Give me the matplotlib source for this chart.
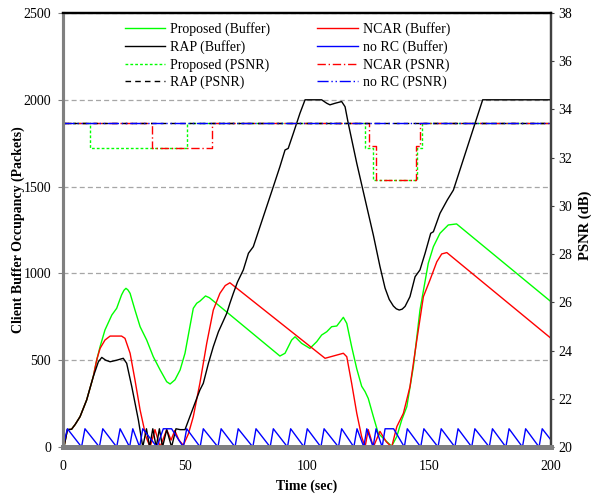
import matplotlib
matplotlib.use("Agg")
import matplotlib.pyplot as plt

plt.rcParams['font.family'] = ['Liberation Serif', 'DejaVu Serif']
plt.rcParams['font.size'] = 10

# ---------------- data ----------------
time_ticks = [0, 50, 100, 150, 200]
buffer_ticks = [0, 500, 1000, 1500, 2000, 2500]
psnr_ticks = [20, 22, 24, 26, 28, 30, 32, 34, 36, 38]

# RAP (Buffer)
rap_t = [0, 0.4, 1.8, 3.5, 5, 7, 9.7, 12.4, 14.5, 15.9, 17.5, 19.3, 22, 24.7, 26.1, 28.2, 30.9,
         32.7, 34.2, 35.5, 36.8, 38.2, 39.5, 40.8, 42.5, 44.5, 46.3, 48, 50, 52, 54, 56.1, 57.5,
         59.6, 61.6, 63.7, 65.7, 67.1, 68.4, 69.8, 71.5, 73.9, 76, 78, 82.1, 86.2, 88.9, 91, 92.3,
         94.4, 97.1, 99.2, 106, 108.1, 109.4, 111.5, 114.2, 115.6, 116.9, 120.4, 124.5, 127.2,
         129.9, 132.0, 133.7, 135.4, 136.6, 137.8, 139.0, 140.2, 142.2, 144.3, 146.3, 148.4,
         150.7, 151.8, 154.5, 157.5, 160, 166, 172, 200]
rap_buf = [0, 0, 100, 102, 130, 175, 271, 405, 491, 516, 500, 491, 500, 511, 482, 347, 155,
           0, 105, 0, 105, 0, 105, 0, 100, 0, 105, 100, 100, 175, 250, 328, 367,
           482, 578, 664, 726, 770, 828, 885, 950, 1020, 1116, 1154, 1327, 1500, 1615, 1711, 1720,
           1807, 1922, 2000, 2000, 1980, 1971, 1980, 1990, 1960, 1865, 1634, 1384, 1220,
           1040, 915, 850, 812, 796, 789, 794, 810, 866, 981, 1020, 1116,
           1231, 1240, 1346, 1423, 1480, 1740, 2000, 2000]

# NCAR (Buffer)
ncar_t = [0, 0.4, 1.8, 3.5, 5, 7, 9.7, 12.4, 13.8, 15.2, 17.2, 19.3, 24, 25.4, 27.5, 29.5, 31.6,
          34, 35.7, 37.7, 39.8, 42.5, 44.3, 45.8, 47.5, 49.3, 51.4, 53.4, 56.1, 58.9, 61.6, 64.3,
          66.5, 68.4, 107.4, 114.9, 116.3, 118.3, 120.4, 122.4, 123.8, 125.1, 127.2, 129.9,
          132.5, 134.7, 136.8, 139.5, 142.2, 145, 147.7, 150.4, 153.2, 155.2, 157.3, 200]
ncar_buf = [0, 0, 100, 102, 130, 175, 271, 405, 501, 568, 616, 639, 639, 626, 540, 386, 213,
            59, 0, 100, 0, 100, 40, 95, 40, 10, 76, 175, 367, 597, 789, 885,
            930, 946, 511, 540, 520, 367, 194, 59, 0, 100, 0, 90,
            30, 0, 117, 194, 347, 616, 866, 962, 1067, 1112, 1120, 626]

# Proposed (Buffer)
prop_t = [0, 0.4, 1.8, 3.5, 5, 7, 9.7, 12.4, 13.8, 15.2, 17.2, 20, 22, 24, 25.0, 25.8, 26.6,
          27.5, 29.5, 31.6, 34.3, 37, 39.8, 42.5, 43.9, 45.9, 48, 50, 52, 53.4, 54.8, 56.1, 58.4,
          60, 88.9, 91, 93.7, 95.1, 97.8, 101.2, 104, 106, 108.1, 110.1, 112.2, 114.9, 116.3,
          118.3, 120.4, 122.4, 123.8, 125.1, 127.2, 129.2, 132, 134.7, 136.8, 138.8, 140.9,
          143.6, 146.3, 149.7, 151.8, 154.5, 157.9, 161.3, 200]
prop_buf = [0, 0, 100, 102, 130, 175, 271, 405, 500, 578, 674, 760, 799, 876, 903, 914, 905,
            885, 789, 693, 616, 520, 444, 376, 363, 387, 444, 540, 693, 799, 828, 840, 870,
            860, 524, 540, 616, 635, 597, 568, 607, 645, 664, 693, 697, 747, 712,
            578, 450, 350, 319, 280, 175, 79, 40, 5, 60, 155, 232,
            463, 789, 1058, 1154, 1231, 1279, 1285, 837]

# no RC (Buffer)
norc_t = [0, 1.8, 7.6, 9.0, 14.9, 16.3, 22.0, 23.4, 27.3, 28.6, 31.4, 32.7, 38.5, 41.1, 44.5,
          49.3, 50.7, 56.2, 57.5, 63.5, 64.8, 70.5, 71.8, 77.8, 79.1, 84.9, 86.2, 92.0, 93.3,
          98.8, 100.1, 105.7, 107, 112.9, 114.2, 119.2, 120.5, 123.3, 124.5, 127.1, 128.3,
          130.8, 132, 135.5, 139.9, 141.1, 146.6, 147.9, 153.7, 155, 160.6, 161.9, 167.5,
          168.8, 174.7, 176, 181.5, 182.8, 188.3, 189.6, 195.1, 196.4, 200]
norc_buf = [0, 105, 0, 105, 0, 105, 0, 105, 0, 105, 0, 105, 0, 105, 105,
            0, 105, 0, 105, 0, 105, 0, 105, 0, 105, 0, 105, 0, 105,
            0, 105, 0, 105, 0, 105, 0, 105, 0, 105, 0, 105,
            0, 105, 105, 0, 105, 0, 105, 0, 105, 0, 105, 0,
            105, 0, 105, 0, 105, 0, 105, 0, 105, 40]

# PSNR (step changes)
prop_psnr_t = [0, 11.1, 50.9, 123.8, 127.2, 145.2, 147.0, 200]
prop_psnr = [33.45, 32.42, 33.45, 32.42, 31.07, 32.42, 33.45, 33.45]
ncar_psnr_t = [0, 36.3, 60.9, 125.5, 128.1, 144.7, 146.3, 200]
ncar_psnr = [33.45, 32.42, 33.45, 32.5, 31.07, 32.5, 33.45, 33.45]
rap_psnr_t = [0, 200]
rap_psnr = [33.45, 33.45]
norc_psnr_t = [0, 200]
norc_psnr = [33.45, 33.45]

GREEN, RED, BLACK, BLUE = '#00ff00', '#ff0000', '#000000', '#0000ff'

# ---------------- figure ----------------
fig = plt.figure(figsize=(5.92, 4.97), dpi=100)
ax = fig.add_axes([63/592, 1-447/497, 488/592, 434/497])
ax2 = ax.twinx()

lw = 1.0
h_prop, = ax.plot(prop_t, prop_buf, color=GREEN, lw=lw, label='Proposed (Buffer)', zorder=2)
h_ncar, = ax.plot(ncar_t, ncar_buf, color=RED, lw=lw, label='NCAR (Buffer)', zorder=3)
h_rap, = ax.plot(rap_t, rap_buf, color=BLACK, lw=lw, label='RAP (Buffer)', zorder=4)
h_norc, = ax.plot(norc_t, norc_buf, color=BLUE, lw=lw, label='no RC (Buffer)', zorder=5)

hp_prop, = ax2.plot(prop_psnr_t, prop_psnr, color=GREEN, lw=lw, drawstyle='steps-post',
                    dashes=(2, 1.5), label='Proposed (PSNR)')
hp_ncar, = ax2.plot(ncar_psnr_t, ncar_psnr, color=RED, lw=lw, drawstyle='steps-post',
                    dashes=(6, 2, 1, 2), label='NCAR (PSNR)')
hp_rap, = ax2.plot(rap_psnr_t, rap_psnr, color=BLACK, lw=lw, dashes=(4, 3), label='RAP (PSNR)')
hp_norc, = ax2.plot(norc_psnr_t, norc_psnr, color=BLUE, lw=lw, dashes=(8, 2, 1, 2, 1, 2),
                    label='no RC (PSNR)')

ax.set_xlim(0, 200)
ax.set_ylim(0, 2500)
ax2.set_ylim(20, 38)
ax.set_xticks(time_ticks)
ax.set_yticks(buffer_ticks)
ax2.set_yticks(psnr_ticks)

ax.yaxis.grid(True, linestyle=(0, (4, 2.5)), color='#a6a6a6', lw=0.9)
ax.set_axisbelow(True)

ax.tick_params(axis='x', length=0, pad=9, labelsize=10)
ax.tick_params(axis='y', direction='out', length=3.5, width=0.8, pad=5, labelsize=10, color='#808080')
ax2.tick_params(axis='y', direction='out', length=2.5, width=0.8, pad=3, labelsize=10, color='#404040')

for a in (ax, ax2):
    a.spines['left'].set_color('#808080')
    a.spines['left'].set_linewidth(2.2)
    a.spines['bottom'].set_color('#808080')
    a.spines['bottom'].set_linewidth(3.5)
    a.spines['top'].set_color('black')
    a.spines['top'].set_linewidth(1.6)
    a.spines['right'].set_color('#404040')
    a.spines['right'].set_linewidth(1.6)

fig.text(18/592, 1-230/497, 'Client Buffer Occupancy (Packets)', rotation=90,
         ha='center', va='center', weight='bold', fontsize=10)
fig.text(307/592, 1-486/497, 'Time (sec)', ha='center', va='center', weight='bold', fontsize=10)
fig.text(585/592, 1-225/497, 'PSNR (dB)', rotation=90, ha='center', va='center',
         weight='bold', fontsize=10.5)

handles = [h_prop, h_rap, hp_prop, hp_rap, h_ncar, h_norc, hp_ncar, hp_norc]
fig.legend(handles, [h.get_label() for h in handles], ncol=2, loc='upper left',
           bbox_to_anchor=(125/592, 1-22/497), frameon=False, borderpad=0, borderaxespad=0,
           handlelength=2.9, handletextpad=0.35, columnspacing=3.4, labelspacing=0.3,
           fontsize=10)

fig.savefig('out.png', dpi=100)
